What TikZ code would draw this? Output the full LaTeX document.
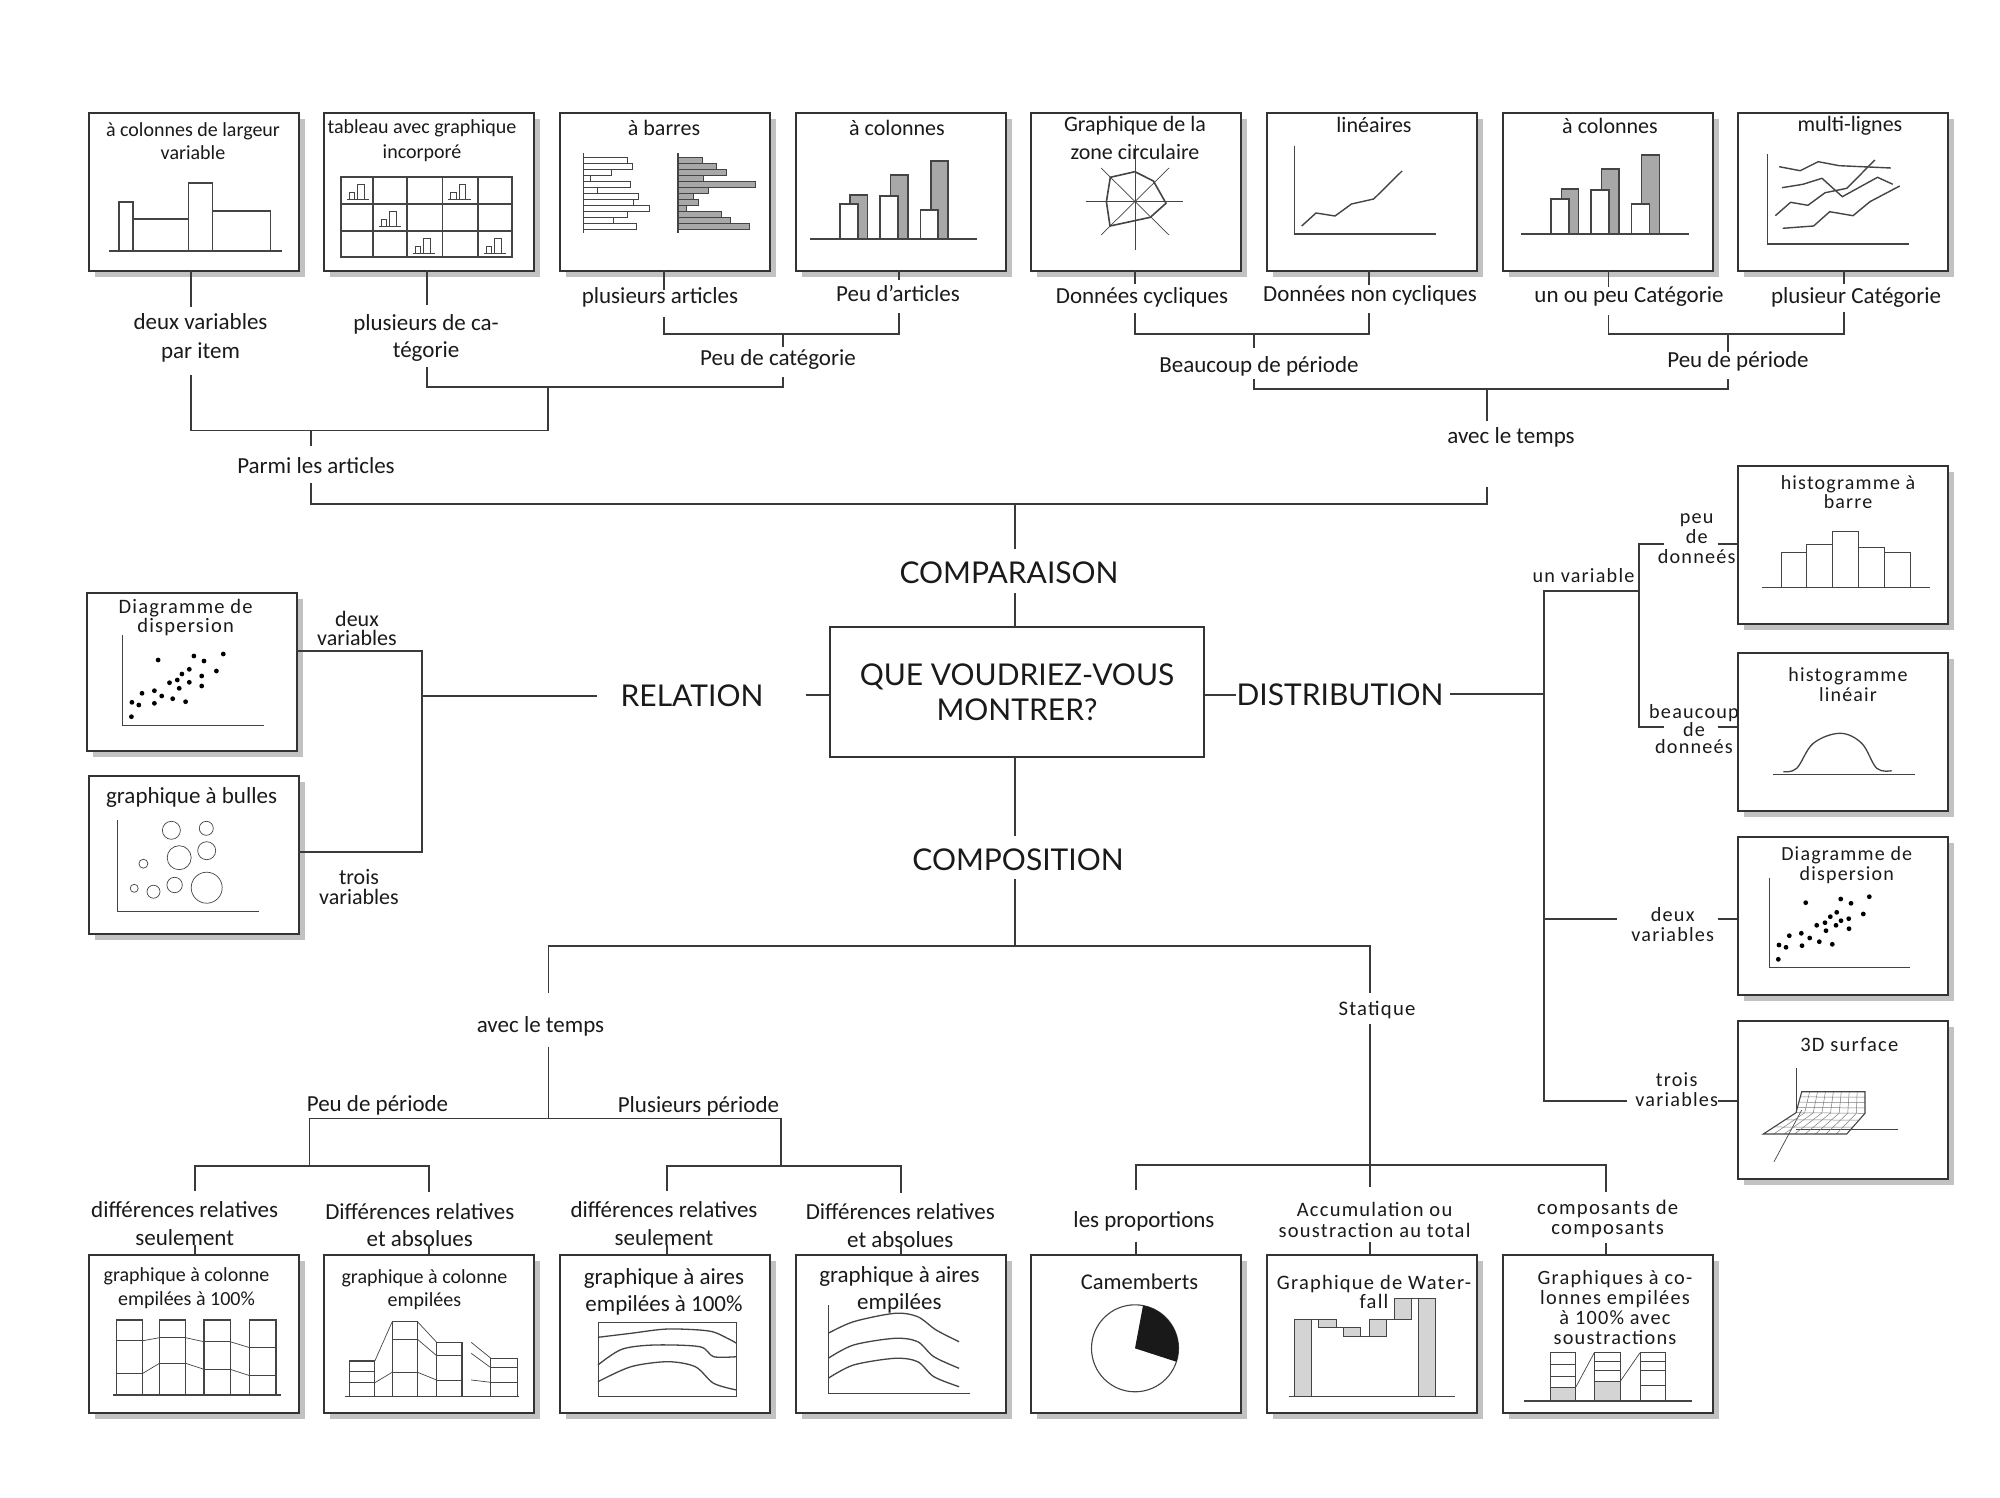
\documentclass[tikz,border=0pt]{standalone}
\usepackage{fontspec}
\setmainfont{Carlito}
\newfontfamily\carw[LetterSpace=6]{Carlito}
\newfontfamily\geo{Lato}
\usetikzlibrary{calc}
\definecolor{linec}{HTML}{3A3A3A}
\definecolor{boxc}{HTML}{333333}
\definecolor{shadowc}{HTML}{C2C2C2}
\definecolor{chartc}{HTML}{444444}
\definecolor{barg}{HTML}{A8A8A8}
\definecolor{wfg}{HTML}{D4D4D4}
\definecolor{txtc}{HTML}{1A1A1A}
\newcommand\fs[2]{\fontsize{#1}{#2}\selectfont}
\newcommand\chbox[3]{%
  \fill[shadowc] (#2+7,#3+7) rectangle ++(210,158);
  \node[cbox] (#1) at (#2,#3) {};}
\begin{document}
\begin{tikzpicture}[x=1pt,y=-1pt,
 conn/.style={draw=linec,line width=1.6pt},
 cbox/.style={draw=boxc,line width=1.8pt,fill=white,minimum width=210pt,minimum height=158pt,inner sep=0pt,anchor=north west},
 chl/.style={draw=chartc,line width=1.1pt},
 thinl/.style={draw=chartc,line width=0.7pt},
 lbl/.style={inner sep=0pt,align=center,text=txtc,font=\fs{23}{26}},
 ttl/.style={inner sep=0pt,align=center,text=txtc,font=\fs{22}{25}},
 big/.style={inner sep=0pt,align=center,text=txtc,font=\geo\fs{30}{35}},
]
\path[use as bounding box,fill=white] (0,0) rectangle (2000,1498);

% ---------- boxes ----------
\chbox{t1}{88}{112}\chbox{t2}{323}{112}\chbox{t3}{559}{112}\chbox{t4}{795}{112}
\chbox{t5}{1030}{112}\chbox{t6}{1266}{112}\chbox{t7}{1502}{112}\chbox{t8}{1737}{112}
\chbox{l1}{86}{592}\chbox{l2}{88}{775}
\chbox{r1}{1737}{465}\chbox{r2}{1737}{652}\chbox{r3}{1737}{836}\chbox{r4}{1737}{1020}
\chbox{b1}{88}{1254}\chbox{b2}{323}{1254}\chbox{b3}{559}{1254}\chbox{b4}{795}{1254}
\chbox{b5}{1030}{1254}\chbox{b6}{1266}{1254}\chbox{b7}{1502}{1254}

% ---------- t1: variable width columns ----------
\draw[chl] (109,251) -- (282,251);
\draw[chl] (119,202) rectangle (133,251);
\draw[chl] (133,219) rectangle (188.5,251);
\draw[chl] (188.5,183) rectangle (212.6,251);
\draw[chl] (212.6,211) rectangle (270.6,251);

% ---------- t2: table ----------
\draw[chl] (341,177) rectangle (512,257);
\foreach \x in {373,407,442.5,478} \draw[chl] (\x,177) -- (\x,257);
\foreach \y in {204,231} \draw[chl] (341,\y) -- (512,\y);
\foreach \a/\b in {341/177,442.5/177,373/204,407/231,478/231}{
  \draw[thinl] (\a+5.5,\b+22) -- (\a+28,\b+22);
  \draw[thinl] (\a+8,\b+22) rectangle (\a+13.6,\b+15.3);
  \draw[thinl] (\a+16.7,\b+22) rectangle (\a+23,\b+7);}

% ---------- t3: bars ----------
\draw[chl] (583.6,153) -- (583.6,233);
\foreach \l [count=\i from 0] in {44,49,28,7,47,14,55,50,66,44,30,53}
  \draw[thinl,fill=white] (583.6,157+6*\i) rectangle ++(\l,6);
\draw[chl] (678,153) -- (678,233);
\foreach \l [count=\i from 0] in {24,38,48,25,77,30,15,20,8,43,52,71}
  \draw[thinl,fill=barg] (678,157+6*\i) rectangle ++(\l,6);

% ---------- t4: columns ----------
\draw[chl] (810,239) -- (977,239);
\draw[chl,fill=barg] (850,195) rectangle (867.5,239);
\draw[chl,fill=barg] (890.5,175) rectangle (908,239);
\draw[chl,fill=barg] (931,161) rectangle (948,239);
\draw[chl,fill=white] (840,204) rectangle (858,239);
\draw[chl,fill=white] (880,196) rectangle (898,239);
\draw[chl,fill=white] (920.5,210) rectangle (938,239);

% ---------- t5: radar ----------
\draw[thinl] (1086,201) -- (1183,201);
\draw[thinl] (1135,145) -- (1135,250);
\draw[thinl] (1101,168) -- (1169,235);
\draw[thinl] (1169,168) -- (1101,235);
\draw[chartc,line width=1.6pt] (1134.9,171.7) -- (1153.4,181) -- (1166,203.3) -- (1150.3,217.3) -- (1110,226) -- (1106.4,201.7) -- (1110.3,177.3) -- cycle;

% ---------- t6: line ----------
\draw[chl] (1294.6,146) -- (1294.6,234) -- (1435.5,234);
\draw[chartc,line width=1.4pt] (1301.7,226) -- (1316,213) -- (1335,216) -- (1351.5,204) -- (1373.7,199) -- (1402,171);

% ---------- t7: columns ----------
\draw[chl] (1521,234) -- (1689,234);
\draw[chl,fill=barg] (1561.4,189) rectangle (1578.6,234);
\draw[chl,fill=barg] (1601.6,169) rectangle (1619,234);
\draw[chl,fill=barg] (1641.4,155) rectangle (1659.4,234);
\draw[chl,fill=white] (1551,199) rectangle (1569,234);
\draw[chl,fill=white] (1591,190) rectangle (1609,234);
\draw[chl,fill=white] (1631.4,204) rectangle (1649.4,234);

% ---------- t8: multi lines ----------
\draw[chl] (1767.7,154) -- (1767.7,244) -- (1909,244);
\draw[chartc,line width=1.4pt] (1779.2,166.7) -- (1800.2,170.7) -- (1818.2,161.7) -- (1839.3,165.7) -- (1890.9,168);
\draw[chartc,line width=1.4pt] (1781.9,187.7) -- (1802.9,184.3) -- (1822,178.3) -- (1842.3,196.7) -- (1877.5,177.3) -- (1892.8,184.3);
\draw[chartc,line width=1.4pt] (1775.3,215.7) -- (1790.6,202.3) -- (1807.9,205.3) -- (1825.1,192.7) -- (1846.9,188.3) -- (1874.8,160);
\draw[chartc,line width=1.4pt] (1782.6,228.3) -- (1813.6,226) -- (1829.7,211.7) -- (1853,215.7) -- (1869.9,201.7) -- (1899.7,186);

% ---------- l1: scatter ----------
\draw[thinl] (122,635) -- (122,725) -- (263.6,725);
\foreach \p in {(158.1,660),(193.9,656),(204,661),(223.3,654),(189.3,669.3),(216.4,671),(181.9,674),(201.7,676),(177.3,680),(169.5,682.7),(189.3,682.3),(179.2,688.3),(201.7,686),(154.4,690.7),(142,693.3),(161.7,696),(131.9,702.3),(138.8,705),(154.4,703.3),(172.7,698.7),(185.6,701.7),(131.4,716.7)}
  \fill[black] \p circle[radius=2.4];

% ---------- l2: bubbles ----------
\draw[thinl] (117.6,820) -- (117.6,911) -- (259,911);
\foreach \c/\r in {{(171.4,830.3)}/9,{(206.3,828.3)}/7,{(179.2,857.7)}/12,{(206.7,850.7)}/9,{(143.4,863.7)}/4.5,{(134.2,888.3)}/4,{(153.5,891.7)}/6.5,{(174.6,885)}/7.7,{(206.7,887.7)}/15.5}
  \draw[thinl] \c circle[radius=\r];

% ---------- r1: histogram bars ----------
\draw[thinl] (1762,587.3) -- (1930,587.3);
\draw[thinl] (1781,552.7) rectangle (1806.7,587.3);
\draw[thinl] (1806.7,544.7) rectangle (1832.3,587.3);
\draw[thinl] (1832.3,531) rectangle (1858.3,587.3);
\draw[thinl] (1858.3,547.3) rectangle (1884.3,587.3);
\draw[thinl] (1884.3,552.7) rectangle (1910,587.3);

% ---------- r2: histogram line ----------
\draw[thinl] (1773,774) -- (1915,774);
\draw[chartc,line width=1.3pt] plot[smooth,tension=0.6] coordinates {(1783.3,771.7) (1796.7,768.3) (1813.3,743.3) (1840,733.3) (1861.7,743.3) (1876.7,768.3) (1891.7,770.7)};

% ---------- r3: scatter ----------
\draw[thinl] (1769,877.7) -- (1769,967.7) -- (1910,967.7);
\foreach \p in {(1805.7,902.7),(1840.7,899),(1851,903.3),(1869.3,896.7),(1836.7,912.3),(1863.3,914),(1830.3,916.7),(1848.7,918.7),(1841,920.7),(1825,922.7),(1836,925.3),(1816.7,925.3),(1849,928.7),(1826,930.7),(1801.3,933.3),(1789.3,935.7),(1809.7,938),(1819.3,941.7),(1832.3,944.3),(1802,945.7),(1779,945),(1786,947.3),(1778.3,959.3)}
  \fill[black] \p circle[radius=2.4];

% ---------- r4: 3D surface ----------
\coordinate (FL) at (1763.3,1134); \coordinate (FR) at (1846.7,1134);
\coordinate (KL) at (1796,1112.7); \coordinate (KR) at (1865,1113.3);
\coordinate (TL) at (1801.7,1091.7); \coordinate (TR) at (1865,1091.7);
\draw[thinl] (1796,1068.3) -- (1796,1113);
\draw[thinl] (1796,1129) -- (1898.3,1129);
\draw[thinl] (1801.7,1110) -- (1774,1161.7);
\foreach \u in {0.125,0.25,0.375,0.5,0.625,0.75,0.875}
  \draw[chartc!70,line width=0.5pt] ($(FL)!\u!(FR)$) -- ($(KL)!\u!(KR)$) -- ($(TL)!\u!(TR)$);
\foreach \v in {0.33,0.67}
  \draw[chartc!70,line width=0.5pt] ($(FL)!\v!(KL)$) -- ($(FR)!\v!(KR)$);
\foreach \v in {0,0.25,0.5,0.75}
  \draw[chartc!70,line width=0.5pt] ($(KL)!\v!(TL)$) -- ($(KR)!\v!(TR)$);
\draw[chartc,line width=1.1pt] (FL) -- (FR) -- (KR) -- (TR) -- (TL) -- (KL) -- cycle;

% ---------- b1 ----------
\draw[chl] (113,1395) -- (280.6,1395);
\foreach \a/\b/\p/\q in {116.7/142.9/1340.7/1373.3,159.4/185.6/1337.7/1363.3,204/230.1/1341.7/1369.3,249.9/276/1347.7/1375.7}{
  \draw[chl] (\a,1320) rectangle (\b,1395);
  \draw[thinl] (\a,\p) -- (\b,\p); \draw[thinl] (\a,\q) -- (\b,\q);}
\draw[thinl] (142.9,1340.7) -- (159.4,1337.7); \draw[thinl] (142.9,1373.3) -- (159.4,1363.3);
\draw[thinl] (185.6,1337.7) -- (204,1341.7); \draw[thinl] (185.6,1363.3) -- (204,1369.3);
\draw[thinl] (230.1,1341.7) -- (249.9,1347.7); \draw[thinl] (230.1,1369.3) -- (249.9,1375.7);

% ---------- b2 ----------
\draw[chl] (345.4,1396.7) -- (518.5,1396.7);
\foreach \a/\b/\t/\p/\q in {349.5/374.8/1361/1371.7/1382.7,392.2/417.5/1321.7/1339.3/1372.3,436.7/462/1342.3/1355.7/1380,490.9/517.1/1358.3/1367.7/1382.3}{
  \draw[chl] (\a,\t) rectangle (\b,1396.7);
  \draw[thinl] (\a,\p) -- (\b,\p); \draw[thinl] (\a,\q) -- (\b,\q);}
\draw[thinl] (374.8,1361) -- (392.2,1321.7); \draw[thinl] (374.8,1382.7) -- (392.2,1372.3);
\draw[thinl] (417.5,1321.7) -- (436.7,1342.3); \draw[thinl] (417.5,1339.3) -- (436.7,1355.7); \draw[thinl] (417.5,1372.3) -- (436.7,1380);
\draw[thinl] (471.2,1342.3) -- (490.9,1358.3); \draw[thinl] (471.2,1353.3) -- (490.9,1367.7); \draw[thinl] (471.2,1380) -- (490.9,1382.3);

% ---------- b3 ----------
\draw[thinl] (597.9,1322.3) rectangle (736.6,1396.7);
\draw[chartc,line width=1.3pt] plot[smooth] coordinates {(597.9,1337.3) (631,1333.3) (667.7,1329) (709,1331) (727.4,1338.3) (736.6,1343.3)};
\draw[chartc,line width=1.3pt] plot[smooth] coordinates {(597.9,1365) (621.7,1349.3) (653.9,1345) (699.8,1346.7) (713.6,1356.7) (736.6,1356.7)};
\draw[chartc,line width=1.3pt] plot[smooth] coordinates {(597.9,1381.7) (631,1366.7) (667.7,1361.7) (695.3,1366.7) (713.6,1383.3) (736.6,1390)};

% ---------- b4 ----------
\draw[thinl] (828.2,1305) -- (828.2,1393.3) -- (969.6,1393.3);
\draw[chartc,line width=1.3pt] plot[smooth] coordinates {(828.2,1333.3) (853.5,1321.7) (894.8,1313.3) (917.7,1316.7) (936.1,1330) (959.1,1341.7)};
\draw[chartc,line width=1.3pt] plot[smooth] coordinates {(828.2,1358.3) (853.5,1345) (894.8,1338.3) (917.7,1341.7) (933.8,1356.7) (959.1,1368.3)};
\draw[chartc,line width=1.3pt] plot[smooth] coordinates {(828.2,1378.3) (853.5,1365) (894.8,1358.3) (917.7,1361.7) (933.8,1376.7) (959.1,1386.7)};

% ---------- b5: pie ----------
\draw[chl,fill=white] (1135,1348.3) circle[radius=43.5];
\fill[black!90] (1135,1348.3) -- ++(-79.4:43.5) arc[start angle=-79.4,end angle=18,radius=43.5] -- cycle;

% ---------- b6: waterfall ----------
\draw[thinl] (1288.7,1396) -- (1455,1396);
\draw[thinl,fill=wfg] (1294.2,1319.3) rectangle (1311.7,1396);
\draw[thinl,fill=wfg] (1318.6,1319.3) rectangle (1336.5,1327.7);
\draw[thinl,fill=wfg] (1343.8,1327.7) rectangle (1360.8,1336.7);
\draw[thinl,fill=wfg] (1369.1,1319.3) rectangle (1386.1,1336.7);
\draw[thinl,fill=wfg] (1393.9,1298.3) rectangle (1411.3,1319.3);
\draw[thinl,fill=wfg] (1418.2,1298.3) rectangle (1435.2,1396);
\draw[thinl] (1311.7,1319.3) -- (1318.6,1319.3);
\draw[thinl] (1336.5,1327.7) -- (1343.8,1327.7);
\draw[thinl] (1360.8,1336.7) -- (1369.1,1336.7);
\draw[thinl] (1386.1,1319.3) -- (1393.9,1319.3);
\draw[thinl] (1411.3,1298.3) -- (1418.2,1298.3);

% ---------- b7 ----------
\fill[wfg] (1550,1387.3) rectangle (1575.7,1401);
\fill[wfg] (1594.3,1381.7) rectangle (1620,1401);
\draw[chl] (1524.3,1401) -- (1691.7,1401);
\foreach \a/\b/\p/\q/\r in {1550/1575.7/1364/1376/1387.3,1594.3/1620/1361.7/1370.7/1381.7,1640/1665.7/1361.7/1370.7/1385}{
  \draw[thinl] (\a,1352.7) rectangle (\b,1401);
  \draw[thinl] (\a,\p) -- (\b,\p); \draw[thinl] (\a,\q) -- (\b,\q); \draw[thinl] (\a,\r) -- (\b,\r);}
\draw[thinl] (1575.7,1387.3) -- (1594.3,1352.7);
\draw[thinl] (1620,1381.7) -- (1640,1352.7);

% ---------- box titles ----------
\node[ttl,font=\fs{20}{23}] (tt1) at (193,141.5) {à colonnes de largeur\\variable};
\node[ttl,font=\fs{20}{25}] (tt2) at (422,140.5) {tableau avec graphique\\incorporé};
\node[ttl] (tt3) at (664,128) {à barres};
\node[ttl] (tt4) at (897,128) {à colonnes};
\node[ttl,font=\fs{22}{28}] (tt5) at (1135,137.5) {Graphique de la\\zone circulaire};
\node[ttl] (tt6) at (1374,125) {linéaires};
\node[ttl] (tt7) at (1610,126) {à colonnes};
\node[ttl] (tt8) at (1850,126) {multi-lignes};
\node[ttl,font=\carw\fs{20.5}{19}] (tl1) at (185.6,617.5) {Diagramme de\\dispersion};
\node[ttl,font=\fs{23}{24}] (tl2) at (191.6,797) {graphique à bulles};
\node[ttl,font=\carw\fs{20}{19}] (tr1) at (1848,492.2) {histogramme à\\barre};
\node[ttl,font=\carw\fs{20}{20}] (tr2) at (1848,685) {histogramme\\linéair};
\node[ttl,font=\carw\fs{20}{20}] (tr3) at (1846.7,865) {Diagramme de\\dispersion};
\node[ttl,font=\carw\fs{20.5}{20}] (tr4) at (1849.3,1044.3) {3D surface};
\node[ttl,font=\fs{20}{24}] (tb1) at (186.5,1288) {graphique à colonne\\empilées à 100\%};
\node[ttl,font=\fs{20}{23}] (tb2) at (424.4,1289.3) {graphique à colonne\\empilées};
\node[ttl,font=\fs{23}{27}] (tb3) at (664,1291.7) {graphique à aires\\empilées à 100\%};
\node[ttl,font=\fs{23}{27}] (tb4) at (899.4,1289.7) {graphique à aires\\empilées};
\node[ttl,font=\fs{22.5}{25}] (tb5) at (1139.5,1281.7) {Camemberts};
\node[ttl,font=\carw\fs{20.5}{19}] (tb6) at (1374,1292.2) {Graphique de Water-\\fall};
\node[ttl,font=\carw\fs{20.3}{20}] (tb7) at (1615,1307.5) {Graphiques à co-\\lonnes empilées\\à 100\% avec\\soustractions};

% ---------- labels ----------
\node[lbl,font=\fs{23}{29}] (la1) at (200.5,337.5) {deux variables\\par item};
\node[lbl,font=\fs{23}{27}] (la2) at (426,337.5) {plusieurs de ca-\\tégorie};
\node[lbl] (la3) at (660,297) {plusieurs articles};
\node[lbl] (la4) at (898,293) {Peu d'articles};
\node[lbl] (la5) at (778,359) {Peu de catégorie};
\node[lbl] (la6) at (1142,297) {Données cycliques};
\node[lbl] (la7) at (1370,295) {Données non cycliques};
\node[lbl] (la8) at (1629,297) {un ou peu Catégorie};
\node[lbl] (la9) at (1856,297) {plusieur Catégorie};
\node[lbl] (la10) at (1259,366) {Beaucoup de période};
\node[lbl] (la11) at (1738,361) {Peu de période};
\node[lbl] (la12) at (1511,437) {avec le temps};
\node[lbl] (la13) at (316,466) {Parmi les articles};

\node[big] (cmp) at (1009,573) {COMPARAISON};
\node[big,draw=boxc,line width=1.6pt,minimum width=374pt,minimum height=130pt] (q) at (1017,692) {QUE VOUDRIEZ-VOUS\\MONTRER?};
\node[big] (rel) at (692,696) {RELATION};
\node[big] (dis) at (1340,695) {DISTRIBUTION};
\node[big] (cps) at (1018,860) {COMPOSITION};

\node[lbl,font=\fs{22}{19}] (lr1) at (357,628.5) {deux\\variables};
\node[lbl,font=\fs{22}{20}] (lr2) at (359,887) {trois\\variables};

\node[lbl,font=\carw\fs{20.2}{22}] (ld1) at (1583.5,575.7) {un variable};
\node[lbl,font=\carw\fs{20.2}{20}] (ld2) at (1696.7,538.3) {peu\\de\\donneés};
\node[lbl,font=\carw\fs{20.2}{17.5}] (ld3) at (1694,729.3) {beaucoup\\de\\donneés};
\node[lbl,font=\carw\fs{20.2}{20}] (ld4) at (1672.7,924.3) {deux\\variables};
\node[lbl,font=\carw\fs{20.2}{19.3}] (ld5) at (1676.7,1089.7) {trois\\variables};

\node[lbl] (lc1) at (540.5,1026.7) {avec le temps};
\node[lbl,font=\carw\fs{20.7}{22}] (lc2) at (1377,1010) {Statique};
\node[lbl] (lc3) at (377.5,1105) {Peu de période};
\node[lbl] (lc4) at (698.5,1106) {Plusieurs période};
\node[lbl,font=\fs{23}{28}] (lc5) at (184.7,1223.3) {différences relatives\\seulement};
\node[lbl,font=\fs{23}{27}] (lc6) at (419.8,1224.7) {Différences relatives\\et absolues};
\node[lbl,font=\fs{23}{28}] (lc7) at (664,1223.3) {différences relatives\\seulement};
\node[lbl,font=\fs{23}{28}] (lc8) at (900.3,1225.3) {Différences relatives\\et absolues};
\node[lbl] (lc9) at (1144,1221) {les proportions};
\node[lbl,font=\carw\fs{20.5}{21}] (lc10) at (1374.6,1219.7) {Accumulation ou\\soustraction au total};
\node[lbl,font=\carw\fs{20.7}{20}] (lc11) at (1607.7,1219) {composants de\\composants};

% ---------- connectors: comparaison ----------
\draw[conn] (191,270) -- (191,307);
\draw[conn] (191,375) -- (191,430.5) -- (548,430.5) -- (548,387);
\draw[conn] (427,270) -- (427,305);
\draw[conn] (427,367) -- (427,387) -- (783,387) -- (783,377);
\draw[conn] (783,347) -- (783,334);
\draw[conn] (664,270) -- (664,290);
\draw[conn] (664,317) -- (664,334) -- (899,334) -- (899,313);
\draw[conn] (899,270) -- (899,280);
\draw[conn] (311,430.5) -- (311,446);
\draw[conn] (311,483) -- (311,504) -- (1487,504) -- (1487,487);
\draw[conn] (1015,504) -- (1015,549);
\draw[conn] (1015,593) -- (1015,627);
\draw[conn] (1135,270) -- (1135,284);
\draw[conn] (1135,313) -- (1135,334) -- (1369,334) -- (1369,313);
\draw[conn] (1369,285) -- (1369,270);
\draw[conn] (1254,334) -- (1254,348);
\draw[conn] (1254,379) -- (1254,389) -- (1728,389) -- (1728,379);
\draw[conn] (1608.5,270) -- (1608.5,287);
\draw[conn] (1608.5,315) -- (1608.5,334) -- (1844,334) -- (1844,312);
\draw[conn] (1844,284) -- (1844,270);
\draw[conn] (1728,334) -- (1728,352);
\draw[conn] (1487,389) -- (1487,421);

% ---------- connectors: centre / relation ----------
\draw[conn] (806,695) -- (q.west |- 0,695);
\draw[conn] (q.east |- 0,695) -- (1236,695);
\draw[conn] (1450,694) -- (1544,694);
\draw[conn] (596.5,696) -- (422,696);
\draw[conn] (296,651) -- (422,651) -- (422,852) -- (298,852);
\draw[conn] (1015,757) -- (1015,836);
\draw[conn] (1015,879) -- (1015,945.7);

% ---------- connectors: distribution ----------
\draw[conn] (1639,591) -- (1544,591) -- (1544,1100.7) -- (1626.7,1100.7);
\draw[conn] (1664,544) -- (1639,544) -- (1639,726.7) -- (1664,726.7);
\draw[conn] (1717.7,544) -- (1737,544);
\draw[conn] (1718,726.7) -- (1737,726.7);
\draw[conn] (1544,918.7) -- (1617.3,918.7);
\draw[conn] (1718.3,918.7) -- (1737,918.7);
\draw[conn] (1718.3,1100.7) -- (1737,1100.7);

% ---------- connectors: composition ----------
\draw[conn] (548.3,993) -- (548.3,945.7) -- (1370,945.7) -- (1370,993);
\draw[conn] (548.3,1046.7) -- (548.3,1118.3);
\draw[conn] (309.6,1118.3) -- (781,1118.3);
\draw[conn] (195,1191) -- (195,1166) -- (429,1166) -- (429,1191.7);
\draw[conn] (309.6,1118.3) -- (309.6,1166);
\draw[conn] (666.8,1191) -- (666.8,1166) -- (900.8,1166) -- (900.8,1193);
\draw[conn] (781,1118.3) -- (781,1166);
\foreach \x in {195,429,666.8,900.8} \draw[conn] (\x,1245) -- (\x,1254);
\draw[conn] (1370,1024) -- (1370,1187);
\draw[conn] (1136,1190) -- (1136,1165) -- (1606,1165) -- (1606,1191.7);
\draw[conn] (1136,1241.7) -- (1136,1254);
\draw[conn] (1370,1241.7) -- (1370,1254);
\draw[conn] (1606,1243) -- (1606,1254);
\end{tikzpicture}
\end{document}
